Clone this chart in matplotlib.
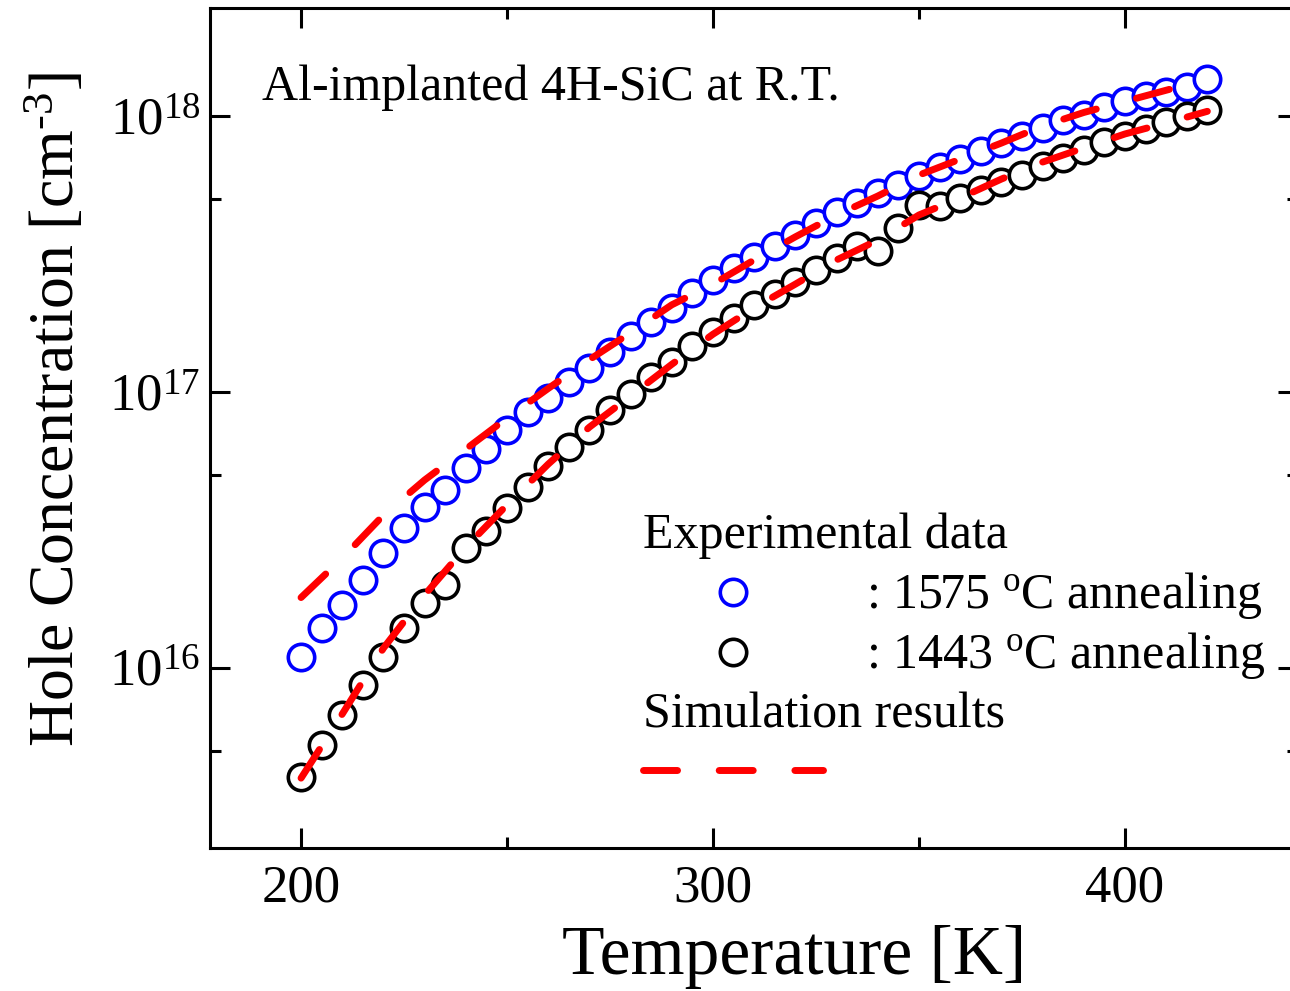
import numpy as np
import matplotlib
matplotlib.use("Agg")
import matplotlib.pyplot as plt
from matplotlib.ticker import MultipleLocator, LogLocator, NullFormatter

plt.rcParams['font.family'] = ['Liberation Serif', 'DejaVu Serif']
plt.rcParams['mathtext.fontset'] = 'custom'
plt.rcParams['mathtext.rm'] = 'Liberation Serif'
plt.rcParams['mathtext.it'] = 'Liberation Serif:italic'

# measured temperatures [K]
temp_exp = [200, 205, 210, 215, 220, 225, 230, 235, 240, 245, 250, 255, 260, 265, 270,
            275, 280, 285, 290, 295, 300, 305, 310, 315, 320, 325, 330, 335, 340, 345,
            350, 355, 360, 365, 370, 375, 380, 385, 390, 395, 400, 405, 410, 415, 420]

# hole concentration, 1575 C anneal [cm^-3]
p_1575 = [1.10e16, 1.40e16, 1.69e16, 2.08e16, 2.61e16, 3.21e16, 3.83e16, 4.42e16, 5.31e16,
          6.21e16, 7.28e16, 8.47e16, 9.51e16, 1.09e17, 1.22e17, 1.40e17, 1.60e17, 1.79e17,
          2.02e17, 2.28e17, 2.55e17, 2.81e17, 3.08e17, 3.38e17, 3.71e17, 4.09e17, 4.49e17,
          4.84e17, 5.26e17, 5.62e17, 6.06e17, 6.54e17, 6.98e17, 7.47e17, 7.98e17, 8.46e17,
          9.05e17, 9.68e17, 1.01e18, 1.08e18, 1.13e18, 1.18e18, 1.22e18, 1.27e18, 1.36e18]

# hole concentration, 1443 C anneal [cm^-3]
p_1443 = [4.03e15, 5.26e15, 6.76e15, 8.67e15, 1.10e16, 1.40e16, 1.72e16, 2.00e16, 2.72e16,
          3.13e16, 3.80e16, 4.53e16, 5.39e16, 6.32e16, 7.28e16, 8.61e16, 9.84e16, 1.13e17,
          1.28e17, 1.47e17, 1.65e17, 1.85e17, 2.07e17, 2.26e17, 2.50e17, 2.77e17, 3.06e17,
          3.38e17, 3.24e17, 3.93e17, 4.76e17, 4.72e17, 5.05e17, 5.39e17, 5.77e17, 6.11e17,
          6.59e17, 7.04e17, 7.53e17, 8.05e17, 8.46e17, 8.97e17, 9.51e17, 1.00e18, 1.05e18]

# simulation
temp_sim = [200, 210, 220, 230, 240, 250, 260, 270, 280, 290, 300, 310,
            320, 330, 340, 350, 360, 370, 380, 390, 400, 410, 420]
sim_1575 = [1.80e16, 2.50e16, 3.58e16, 4.80e16, 6.21e16, 8.05e16, 1.03e17, 1.31e17,
            1.64e17, 2.07e17, 2.46e17, 3.01e17, 3.65e17, 4.38e17, 5.13e17, 6.11e17,
            6.98e17, 7.98e17, 9.20e17, 1.03e18, 1.13e18, 1.24e18, 1.36e18]
sim_1443 = [3.99e15, 6.81e15, 1.18e16, 1.84e16, 2.74e16, 3.90e16, 5.48e16, 7.46e16,
            9.68e16, 1.26e17, 1.62e17, 2.02e17, 2.46e17, 3.01e17, 3.55e17, 4.38e17,
            5.05e17, 5.91e17, 6.81e17, 7.66e17, 8.61e17, 9.44e17, 1.04e18]

fig = plt.figure(figsize=(12.9, 9.91), dpi=100)
ax = fig.add_axes([0.1628, 0.1443, 0.8434, 0.8476])

mk = dict(marker='o', linestyle='none', markersize=19, markeredgewidth=2.6,
          markerfacecolor='white')
ax.plot(temp_exp, p_1575, markeredgecolor='#0000ff', zorder=3, **mk)
ax.plot(temp_exp, p_1443, markeredgecolor='black', zorder=3, **mk)

dash = dict(color='#ff0000', linewidth=5, dashes=(4.9, 6.0), dash_capstyle='round', zorder=4)
ax.plot(temp_sim, sim_1575, **dash)
ax.plot(temp_sim, sim_1443, **dash)

ax.set_yscale('log')
ax.set_xlim(177.9, 442.0)
ax.set_ylim(10 ** 15.3478, 10 ** 18.3913)

ax.xaxis.set_major_locator(MultipleLocator(100))
ax.xaxis.set_minor_locator(MultipleLocator(50))
ax.yaxis.set_major_locator(LogLocator(base=10, subs=[1.0]))
ax.yaxis.set_minor_locator(LogLocator(base=10, subs=[5.0]))
ax.yaxis.set_minor_formatter(NullFormatter())

ax.tick_params(which='both', direction='in', top=True, right=True, width=2.2)
ax.tick_params(which='major', length=14.5)
ax.tick_params(which='minor', length=8)
ax.tick_params(axis='x', labelsize=38, pad=12)
ax.tick_params(axis='y', labelsize=38, pad=7)
for s in ax.spines.values():
    s.set_linewidth(2.2)

ax.set_xlabel('Temperature [K]', fontsize=50)
ax.xaxis.set_label_coords(0.5365, -0.092)
ax.set_ylabel('Hole Concentration [cm$^{\\text{-}3}$]', fontsize=46)
ax.yaxis.set_label_coords(-0.112, 0.522)

ax.text(0.0478, 0.8905, 'Al-implanted 4H-SiC at R.T.', fontsize=36,
        transform=ax.transAxes, va='baseline')

# hand-made legend
ax.text(0.398, 0.3571, 'Experimental data', fontsize=36, transform=ax.transAxes, va='baseline')
ax.text(0.603, 0.2857, ': 1575 $^{\\mathrm{o}}$C annealing', fontsize=36,
        transform=ax.transAxes, va='baseline')
ax.text(0.603, 0.2143, ': 1443 $^{\\mathrm{o}}$C annealing', fontsize=36,
        transform=ax.transAxes, va='baseline')
ax.text(0.398, 0.1429, 'Simulation results', fontsize=36, transform=ax.transAxes, va='baseline')
ax.plot([0.4807], [0.3048], transform=ax.transAxes, markeredgecolor='#0000ff', clip_on=False, **mk)
ax.plot([0.4807], [0.2333], transform=ax.transAxes, markeredgecolor='black', clip_on=False, **mk)
ax.plot([0.3981, 0.5630], [0.0929, 0.0929], transform=ax.transAxes, clip_on=False, **dash)

fig.savefig('out.png', dpi=100)
